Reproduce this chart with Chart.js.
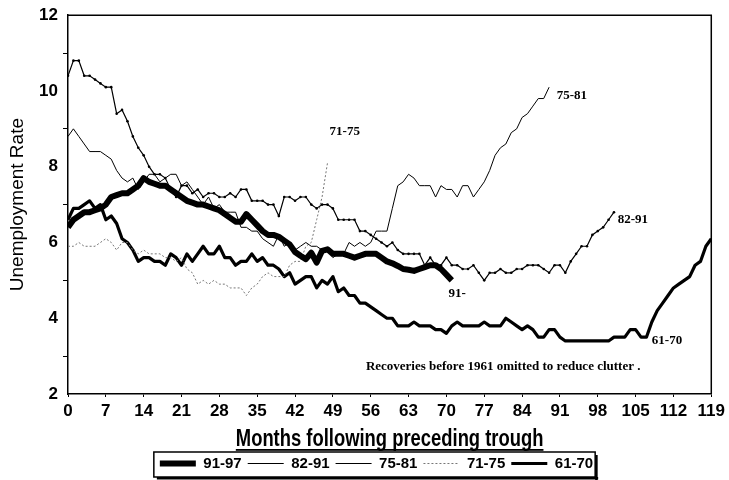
<!DOCTYPE html>
<html>
<head>
<meta charset="utf-8">
<title>Unemployment rate in recoveries</title>
<script src="https://cdn.jsdelivr.net/npm/chart.js@4.4.1/dist/chart.umd.min.js"></script>
<style>
  html, body { margin: 0; padding: 0; background: #fff; }
</style>
</head>
<body>
<canvas id="chart" width="729" height="480"></canvas>
<script>
// unemployment rate (%) by month after the preceding trough
const r9197 = [6.4, 6.6, 6.7, 6.8, 6.8, 6.85, 6.9, 7.0, 7.2, 7.25,
  7.3, 7.3, 7.4, 7.5, 7.7, 7.6, 7.55, 7.5, 7.5, 7.4,
  7.3, 7.2, 7.1, 7.05, 7.0, 7.0, 6.95, 6.9, 6.85, 6.75,
  6.65, 6.55, 6.55, 6.75, 6.6, 6.45, 6.3, 6.2, 6.2, 6.15,
  6.05, 5.95, 5.75, 5.65, 5.56, 5.73, 5.47, 5.78, 5.82, 5.7,
  5.7, 5.7, 5.65, 5.6, 5.65, 5.7, 5.7, 5.7, 5.6, 5.5,
  5.45, 5.38, 5.3, 5.28, 5.25, 5.3, 5.35, 5.4, 5.4, 5.3, 5.15, 5.0];
const r8291 = [10.4, 10.8, 10.8,
  10.4, 10.4, 10.3, 10.2, 10.1, 10.1, 9.4, 9.5, 9.2, 8.8, 8.5, 8.3,
  8.0, 7.8, 7.8, 7.7, 7.4, 7.2, 7.5, 7.5, 7.3, 7.4, 7.2, 7.3,
  7.3, 7.2, 7.2, 7.3, 7.2, 7.4, 7.4, 7.1, 7.1, 7.1, 7.0, 7.0,
  6.7, 7.2, 7.2, 7.1, 7.2, 7.2, 7.0, 6.9, 7.0, 7.0, 6.9, 6.6,
  6.6, 6.6, 6.6, 6.3, 6.3, 6.2, 6.1, 6.0, 5.9, 6.0, 5.8, 5.7,
  5.7, 5.7, 5.7, 5.4, 5.6, 5.4, 5.4, 5.6, 5.4, 5.4, 5.3, 5.3,
  5.4, 5.2, 5.0, 5.2, 5.2, 5.3, 5.2, 5.2, 5.3, 5.3, 5.4, 5.4,
  5.4, 5.3, 5.2, 5.4, 5.4, 5.2, 5.5, 5.7, 5.9, 5.9, 6.2, 6.3,
  6.4, 6.6, 6.8];
const r7581 = [8.8, 9.0, 8.8, 8.6, 8.4, 8.4, 8.4, 8.3, 8.2,
  7.9, 7.7, 7.6, 7.7, 7.4, 7.6, 7.8, 7.8, 7.6, 7.7, 7.8, 7.8,
  7.5, 7.6, 7.4, 7.2, 7.0, 7.2, 6.9, 7.0, 6.8, 6.8, 6.8, 6.4,
  6.4, 6.3, 6.3, 6.1, 6.0, 5.9, 6.2, 5.9, 6.0, 5.8, 5.9, 6.0,
  5.9, 5.9, 5.8, 5.8, 5.6, 5.7, 5.7, 6.0, 5.9, 6.0, 5.9, 6.0,
  6.3, 6.3, 6.3, 6.9, 7.5, 7.6, 7.8, 7.7, 7.5, 7.5, 7.5, 7.2,
  7.5, 7.4, 7.4, 7.2, 7.5, 7.5, 7.2, 7.4, 7.6, 7.9, 8.3, 8.5,
  8.6, 8.9, 9.0, 9.3, 9.4, 9.6, 9.8, 9.8, 10.1];
const r7175 = [5.9, 5.9, 6.0, 5.9, 5.9, 5.9, 6.0, 6.1, 6.0, 5.8, 6.0, 6.0,
  5.8, 5.7, 5.8, 5.7, 5.7, 5.7, 5.6, 5.6, 5.5, 5.6, 5.3, 5.2,
  4.9, 5.0, 4.9, 5.0, 4.9, 4.9, 4.8, 4.8, 4.8, 4.6, 4.8, 4.9,
  5.1, 5.2, 5.1, 5.1, 5.1, 5.4, 5.5, 5.5, 5.9, 6.0, 6.6, 7.2,
  8.1];
const r6170 = [6.6, 6.9, 6.9, 7.0, 7.1, 6.9, 7.0, 6.6, 6.7, 6.5, 6.1, 6.0,
  5.8, 5.5, 5.6, 5.6, 5.5, 5.5, 5.4, 5.7, 5.6, 5.4, 5.7, 5.5,
  5.7, 5.9, 5.7, 5.7, 5.9, 5.6, 5.6, 5.4, 5.5, 5.5, 5.7, 5.5,
  5.6, 5.4, 5.4, 5.3, 5.1, 5.2, 4.9, 5.0, 5.1, 5.1, 4.8, 5.0,
  4.9, 5.1, 4.7, 4.8, 4.6, 4.6, 4.4, 4.4, 4.3, 4.2, 4.1, 4.0,
  4.0, 3.8, 3.8, 3.8, 3.9, 3.8, 3.8, 3.8, 3.7, 3.7, 3.6, 3.8,
  3.9, 3.8, 3.8, 3.8, 3.8, 3.9, 3.8, 3.8, 3.8, 4.0, 3.9, 3.8,
  3.7, 3.8, 3.7, 3.5, 3.5, 3.7, 3.7, 3.5, 3.4, 3.4, 3.4, 3.4,
  3.4, 3.4, 3.4, 3.4, 3.4, 3.5, 3.5, 3.5, 3.7, 3.7, 3.5, 3.5,
  3.9, 4.2, 4.4, 4.6, 4.8, 4.9, 5.0, 5.1, 5.4, 5.5, 5.9, 6.1];

const seriesNames = ['91-97', '82-91', '75-81', '71-75', '61-70'];
const xTitle = 'Months following preceding trough';
const yTitle = 'Unemployment Rate';

// text notes written on the plot: [text, month, rate, align]
const notes = [
  ['71-75', 51.2, 8.92, 'center'],
  ['75-81', 90.4, 9.88, 'left'],
  ['82-91', 101.7, 6.6, 'left'],
  ['91-', 70.4, 4.64, 'left'],
  ['61-70', 108, 3.42, 'left'],
  ['Recoveries before 1961 omitted to reduce clutter .', 105.9, 2.73, 'right']
];

const sans = "'Liberation Sans', Arial, sans-serif";
const serif = "'Liberation Serif', 'Times New Roman', serif";

const toPoints = arr => arr.map((v, i) => ({x: i, y: v}));

Chart.defaults.color = '#000';

// frame, condensed x title, notes and the legend box
const extras = {
  id: 'extras',
  afterLayout(chart) {
    const lg = chart.legend;
    lg.top = 450;
    lg.left += 20;
    lg.right += 20;
  },
  afterDraw(chart) {
    const {ctx, chartArea: a, scales} = chart;
    const xs = scales.x;
    ctx.save();
    ctx.strokeStyle = '#000';
    ctx.fillStyle = '#000';
    ctx.lineWidth = 1.5;
    ctx.beginPath();
    ctx.moveTo(a.left, a.top);
    ctx.lineTo(a.right, a.top);
    ctx.lineTo(a.right, a.bottom);
    ctx.stroke();

    // x axis title, narrow and underlined
    ctx.save();
    ctx.font = 'bold 23px ' + sans;
    ctx.textAlign = 'center';
    ctx.textBaseline = 'middle';
    ctx.translate((xs.left + xs.right) / 2, 440);
    ctx.scale(0.8, 1);
    ctx.fillText(xTitle, 0, 0);
    const tw = ctx.measureText(xTitle).width;
    ctx.fillRect(-tw / 2, 9, tw, 1.8);
    ctx.restore();

    // notes
    ctx.textBaseline = 'middle';
    notes.forEach(([t, m, v, al]) => {
      ctx.font = 'bold 13px ' + serif;
      ctx.textAlign = al;
      ctx.fillText(t, xs.getPixelForValue(m), scales.y.getPixelForValue(v));
    });

    // legend box with a shadow
    const lg = chart.legend;
    const boxes = lg.legendHitBoxes;
    if (boxes && boxes.length) {
      const l = Math.min(...boxes.map(b => b.left)) - 6;
      const r = Math.max(...boxes.map(b => b.left + b.width)) + 2;
      const t = lg.top + 2;
      const b = lg.top + 27;
      ctx.lineWidth = 1.5;
      ctx.strokeRect(l, t, r - l, b - t);
      ctx.fillRect(l + 3, b, r - l, 2.5);
      ctx.fillRect(r, t + 3, 2.5, b - t);
    }
    ctx.restore();
  }
};

new Chart(document.getElementById('chart'), {
  type: 'line',
  data: {
    datasets: [
      {label: seriesNames[0], data: toPoints(r9197), borderColor: '#000', borderWidth: 6, pointRadius: 0, borderJoinStyle: 'round'},
      {label: seriesNames[1], data: toPoints(r8291), borderColor: '#000', borderWidth: 1.2, pointRadius: 1.3, pointBackgroundColor: '#000', pointBorderWidth: 0},
      {label: seriesNames[2], data: toPoints(r7581), borderColor: '#000', borderWidth: 1, pointRadius: 0},
      {label: seriesNames[3], data: toPoints(r7175), borderColor: '#777', borderWidth: 1, borderDash: [2, 2], pointRadius: 0},
      {label: seriesNames[4], data: toPoints(r6170), borderColor: '#000', borderWidth: 3.2, pointRadius: 0, borderJoinStyle: 'round'}
    ]
  },
  options: {
    responsive: false,
    animation: false,
    devicePixelRatio: 1,
    layout: {padding: {top: 13, right: 16, bottom: 0, left: 0}},
    plugins: {
      tooltip: {enabled: false},
      legend: {
        position: 'bottom',
        align: 'center',
        labels: {
          usePointStyle: true,
          pointStyleWidth: 36,
          padding: 6,
          color: '#000',
          font: {family: sans, size: 15, weight: 'bold'},
          generateLabels(chart) {
            const items = Chart.defaults.plugins.legend.labels.generateLabels(chart);
            items.forEach(it => {
              const ds = chart.data.datasets[it.datasetIndex];
              it.pointStyle = 'line';
              it.lineWidth = ds.borderWidth;
              it.strokeStyle = ds.borderColor;
              it.lineDash = ds.borderDash || [];
            });
            return items;
          }
        }
      }
    },
    scales: {
      x: {
        type: 'linear',
        min: 0,
        max: 119,
        afterFit(scale) { scale.height = 55; },
        border: {color: '#000', width: 1.5},
        grid: {display: true, drawOnChartArea: false, drawTicks: true, tickLength: 3, color: '#000'},
        ticks: {stepSize: 7, autoSkip: false, maxRotation: 0, padding: 4,
          font: {family: sans, size: 17, weight: 'bold'}},
        title: {display: false}
      },
      y: {
        min: 2,
        max: 12,
        afterFit(scale) { scale.width = 68; },
        border: {color: '#000', width: 1.5},
        grid: {display: true, drawOnChartArea: false, drawTicks: true, tickLength: 5,
          tickColor: c => (c.tick && c.tick.value % 2 === 1) ? '#000' : 'rgba(0,0,0,0)'},
        ticks: {stepSize: 1, autoSkip: false, padding: 5,
          callback: v => (v % 2 === 0 ? v : ''),
          font: {family: sans, size: 17, weight: 'bold'}},
        title: {display: true, text: yTitle,
          font: {family: sans, size: 19, lineHeight: 1.1},
          padding: {top: 7, bottom: 0}}
      }
    }
  },
  plugins: [extras]
});
</script>
</body>
</html>
